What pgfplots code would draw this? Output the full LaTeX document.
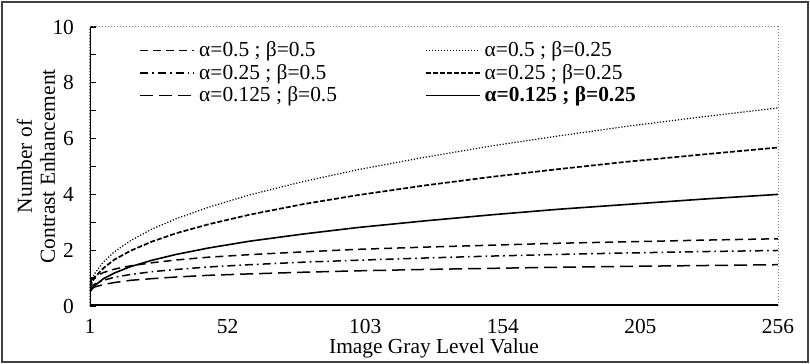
\documentclass[border=0pt]{standalone}
\usepackage{pgfplots}
\pgfplotsset{compat=1.18}
\usepackage{pgfplotstable}
\usepackage{fontspec}
\setmainfont{Liberation Serif}

\pgfplotstableread{
x   a    b    c    d    e    f
1   0.86 0.77 0.64 0.69 0.57 0.50
2   0.98 1.02 0.74 0.90 0.64 0.65
3   1.06 1.20 0.80 1.05 0.69 0.75
6   1.20 1.58 0.92 1.36 0.77 0.98
10  1.32 1.94 1.03 1.66 0.84 1.18
16  1.44 2.34 1.13 1.98 0.92 1.41
24  1.55 2.76 1.23 2.31 0.98 1.64
33  1.65 3.13 1.31 2.61 1.04 1.85
45  1.75 3.54 1.40 2.93 1.10 2.08
60  1.84 3.98 1.48 3.27 1.15 2.32
80  1.94 4.46 1.57 3.65 1.21 2.58
100 2.03 4.88 1.64 3.97 1.26 2.81
125 2.11 5.33 1.72 4.32 1.31 3.05
150 2.18 5.74 1.79 4.63 1.35 3.27
175 2.25 6.10 1.85 4.91 1.39 3.47
200 2.30 6.44 1.90 5.17 1.42 3.64
228 2.36 6.78 1.95 5.43 1.45 3.83
256 2.41 7.10 1.99 5.68 1.48 4.00
}\data

\begin{document}
\begin{tikzpicture}
\path[use as bounding box] (0,0) rectangle (405pt,182pt);
\draw[black!75, line width=0.6pt] (1pt,1pt) rectangle (404pt,181pt);
\begin{axis}[
  at={(45pt,29pt)}, anchor=south west,
  scale only axis, width=344pt, height=139.5pt,
  xmin=1, xmax=256, ymin=0, ymax=10,
  xtick={1,52,103,154,205,256},
  ytick={0,2,...,10}, minor ytick={1,3,...,9},
  ytick pos=left,
  tick align=inside,
  major tick length=3pt, minor tick length=3pt,
  xtick style={draw=none},
  tick style={black, line width=0.6pt},
  axis line style={gray, densely dotted, line width=0.5pt},
  /pgf/number format/assume math mode=true,
  tick label style={font=\fontsize{10.7}{12}\selectfont},
  yticklabel style={xshift=-4.5pt},
  xticklabel style={yshift=-3pt},
  xlabel={Image Gray Level Value},
  xlabel style={at={(axis description cs:0.5,0)}, anchor=center, yshift=-21pt, font=\fontsize{10.7}{12}\selectfont},
  ylabel={Number of\\Contrast Enhancement},
  ylabel style={at={(axis description cs:-0.0785,0.5)}, anchor=center, align=center, font=\fontsize{10.7}{11.5}\selectfont},
  legend columns=2,
  legend cell align=left,
  legend style={draw=none, fill=none, at={(axis description cs:0.063,0.978)}, anchor=north west,
    font=\fontsize{10.7}{11.5}\selectfont, row sep=-1.8pt,
    /tikz/every even column/.append style={column sep=42pt}},
  legend image code/.code={\draw[#1] (0pt,0pt) -- (27pt,0pt);},
]
\addplot[black, line width=0.75pt, dash pattern=on 4pt off 2.5pt] table[x=x,y=a]{\data};
\addlegendentry{α=0.5 ; β=0.5}
\addplot[black, line width=0.6pt, dash pattern=on 0.6pt off 0.9pt] table[x=x,y=b]{\data};
\addlegendentry{α=0.5 ; β=0.25}
\addplot[black, line width=0.75pt, dash pattern=on 4pt off 2pt on 0.8pt off 2pt] table[x=x,y=c]{\data};
\addlegendentry{α=0.25 ; β=0.5}
\addplot[black, line width=0.85pt, dash pattern=on 2.5pt off 1pt] table[x=x,y=d]{\data};
\addlegendentry{α=0.25 ; β=0.25}
\addplot[black, line width=0.75pt, dash pattern=on 6.5pt off 3pt] table[x=x,y=e]{\data};
\addlegendentry{α=0.125 ; β=0.5}
\addplot[black, line width=0.8pt] table[x=x,y=f]{\data};
\addlegendentry{\textbf{α=0.125 ; β=0.25}}
\draw[black, line width=1.2pt] (rel axis cs:0,0) -- (rel axis cs:0,1);
\draw[black, line width=2pt] (rel axis cs:0,0) -- (rel axis cs:1,0);
\end{axis}
\end{tikzpicture}
\end{document}
